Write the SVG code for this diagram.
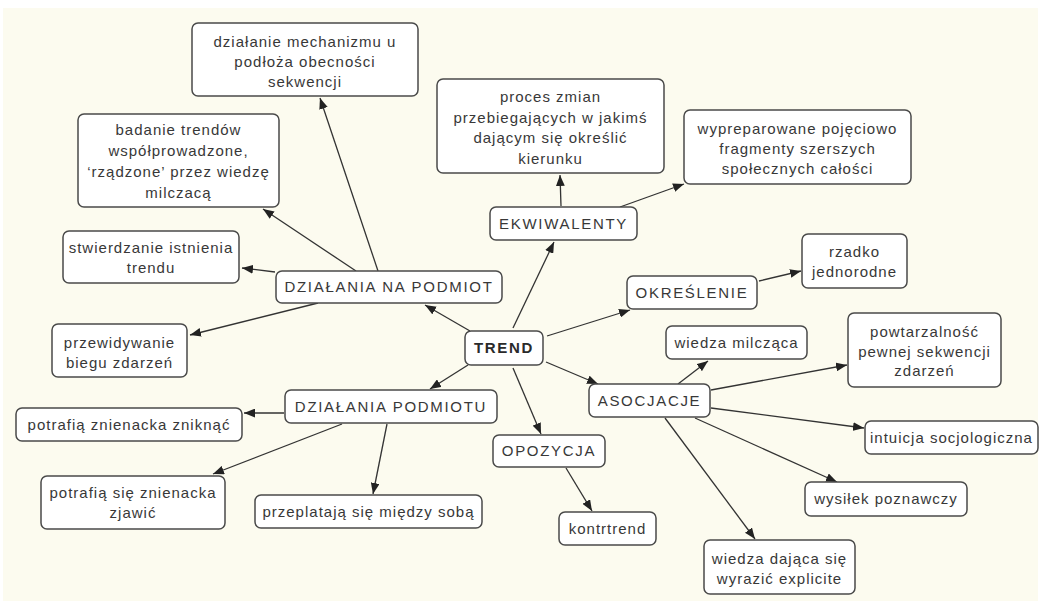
<svg xmlns="http://www.w3.org/2000/svg" width="1041" height="601" viewBox="0 0 1041 601">
<style>
.box{fill:#ffffff;stroke:#4a4a4a;stroke-width:1.5}
.t{font-family:"Liberation Sans",Arial,sans-serif;font-size:15px;letter-spacing:1px;fill:#383838;text-anchor:middle}
.u{font-family:"Liberation Sans",Arial,sans-serif;font-size:15px;letter-spacing:1.7px;fill:#383838;text-anchor:middle}
.b{font-weight:bold;fill:#2a2a2a}
.c{stroke:#333;stroke-width:1.3;fill:none;marker-end:url(#ah)}
</style>
<defs>
<marker id="ah" viewBox="0 0 10 8" refX="10" refY="4" markerWidth="11" markerHeight="9" markerUnits="userSpaceOnUse" orient="auto">
<path d="M0,0 L10,4 L0,8 z" fill="#222"/>
</marker>
</defs>
<rect x="0" y="0" width="1041" height="601" fill="#ffffff"/>
<rect x="3" y="8" width="1035" height="593" fill="#fcfbef"/>

<g id="connectors">
<line class="c" x1="470" y1="331" x2="425" y2="305"/>
<line class="c" x1="513" y1="328" x2="554" y2="242"/>
<line class="c" x1="547" y1="336" x2="630" y2="310"/>
<line class="c" x1="546" y1="362" x2="598" y2="384"/>
<line class="c" x1="513" y1="368" x2="541" y2="434"/>
<line class="c" x1="468" y1="365" x2="430" y2="389"/>
<line class="c" x1="378" y1="271" x2="320" y2="98"/>
<line class="c" x1="356" y1="271" x2="263" y2="209"/>
<line class="c" x1="275" y1="272" x2="242" y2="268"/>
<line class="c" x1="318" y1="303" x2="190" y2="335"/>
<line class="c" x1="284" y1="413" x2="244" y2="413"/>
<line class="c" x1="342" y1="424" x2="213" y2="474"/>
<line class="c" x1="387" y1="424" x2="373" y2="494"/>
<line class="c" x1="566" y1="468" x2="592" y2="511"/>
<line class="c" x1="678" y1="384" x2="708" y2="361"/>
<line class="c" x1="711" y1="390" x2="847" y2="365"/>
<line class="c" x1="711" y1="408" x2="864" y2="428"/>
<line class="c" x1="695" y1="418" x2="837" y2="482"/>
<line class="c" x1="665" y1="418" x2="755" y2="539"/>
<line class="c" x1="759" y1="281" x2="801" y2="271"/>
<line class="c" x1="561" y1="206" x2="560" y2="175"/>
<line class="c" x1="620" y1="207" x2="684" y2="184"/>
</g>

<g id="n-mechanizm">
<rect class="box" x="192" y="23" width="226" height="73" rx="6"/>
<text class="t" x="305" y="47">działanie mechanizmu u</text>
<text class="t" x="305" y="67">podłoża obecności</text>
<text class="t" x="305" y="87">sekwencji</text>
</g>
<g id="n-badanie">
<rect class="box" x="78" y="114" width="201" height="93" rx="6"/>
<text class="t" x="178.5" y="135">badanie trendów</text>
<text class="t" x="178.5" y="156">współprowadzone,</text>
<text class="t" x="178.5" y="177">‘rządzone’ przez wiedzę</text>
<text class="t" x="178.5" y="198">milczacą</text>
</g>
<g id="n-stwierdzanie">
<rect class="box" x="63" y="231" width="176" height="52" rx="6"/>
<text class="t" x="151" y="253">stwierdzanie istnienia</text>
<text class="t" x="151" y="273">trendu</text>
</g>
<g id="n-przewidywanie">
<rect class="box" x="52" y="324" width="135" height="53" rx="6"/>
<text class="t" x="119.5" y="348">przewidywanie</text>
<text class="t" x="119.5" y="368">biegu zdarzeń</text>
</g>
<g id="n-dzialania-na-podmiot">
<rect class="box" x="276" y="271" width="226" height="32" rx="6"/>
<text class="u" x="389" y="292">DZIAŁANIA NA PODMIOT</text>
</g>
<g id="n-trend">
<rect class="box" x="465" y="331" width="78" height="34" rx="6"/>
<text class="u b" x="504" y="353">TREND</text>
</g>
<g id="n-dzialania-podmiotu">
<rect class="box" x="285" y="390" width="212" height="33" rx="6"/>
<text class="u" x="391" y="412">DZIAŁANIA PODMIOTU</text>
</g>
<g id="n-zniknac">
<rect class="box" x="16" y="408" width="226" height="33" rx="6"/>
<text class="t" x="129" y="430">potrafią znienacka zniknąć</text>
</g>
<g id="n-zjawic">
<rect class="box" x="41" y="476" width="184" height="53" rx="6"/>
<text class="t" x="133" y="498">potrafią się znienacka</text>
<text class="t" x="133" y="518">zjawić</text>
</g>
<g id="n-przeplataja">
<rect class="box" x="255" y="495" width="227" height="33" rx="6"/>
<text class="t" x="368.5" y="517">przeplatają się między sobą</text>
</g>
<g id="n-opozycja">
<rect class="box" x="493" y="435" width="112" height="32" rx="6"/>
<text class="u" x="549" y="456">OPOZYCJA</text>
</g>
<g id="n-kontrtrend">
<rect class="box" x="559" y="512" width="97" height="33" rx="6"/>
<text class="t" x="607.5" y="534">kontrtrend</text>
</g>
<g id="n-asocjacje">
<rect class="box" x="589" y="384" width="121" height="33" rx="6"/>
<text class="u" x="649.5" y="406">ASOCJACJE</text>
</g>
<g id="n-wiedza-milczaca">
<rect class="box" x="666" y="326" width="141" height="33" rx="6"/>
<text class="t" x="736.5" y="348">wiedza milcząca</text>
</g>
<g id="n-powtarzalnosc">
<rect class="box" x="848" y="313" width="153" height="74" rx="6"/>
<text class="t" x="924.5" y="337">powtarzalność</text>
<text class="t" x="924.5" y="357">pewnej sekwencji</text>
<text class="t" x="924.5" y="376">zdarzeń</text>
</g>
<g id="n-intuicja">
<rect class="box" x="865" y="421" width="173" height="33" rx="6"/>
<text class="t" x="951.5" y="443">intuicja socjologiczna</text>
</g>
<g id="n-wysilek">
<rect class="box" x="805" y="482" width="162" height="34" rx="6"/>
<text class="t" x="886" y="504">wysiłek poznawczy</text>
</g>
<g id="n-wiedza-explicite">
<rect class="box" x="704" y="540" width="151" height="54" rx="6"/>
<text class="t" x="779.5" y="564">wiedza dająca się</text>
<text class="t" x="779.5" y="584">wyrazić explicite</text>
</g>
<g id="n-okreslenie">
<rect class="box" x="627" y="276" width="130" height="33" rx="6"/>
<text class="u" x="692" y="298">OKREŚLENIE</text>
</g>
<g id="n-rzadko">
<rect class="box" x="802" y="234" width="105" height="54" rx="6"/>
<text class="t" x="854.5" y="257">rzadko</text>
<text class="t" x="854.5" y="277">jednorodne</text>
</g>
<g id="n-wypreparowane">
<rect class="box" x="684" y="110" width="227" height="74" rx="6"/>
<text class="t" x="797.5" y="134">wypreparowane pojęciowo</text>
<text class="t" x="797.5" y="154">fragmenty szerszych</text>
<text class="t" x="797.5" y="174">społecznych całości</text>
</g>
<g id="n-proces">
<rect class="box" x="437" y="79" width="227" height="94" rx="6"/>
<text class="t" x="550.5" y="102">proces zmian</text>
<text class="t" x="550.5" y="123">przebiegających w jakimś</text>
<text class="t" x="550.5" y="143">dającym się określić</text>
<text class="t" x="550.5" y="164">kierunku</text>
</g>
<g id="n-ekwiwalenty">
<rect class="box" x="490" y="207" width="147" height="33" rx="6"/>
<text class="u" x="563.5" y="229">EKWIWALENTY</text>
</g>
</svg>
